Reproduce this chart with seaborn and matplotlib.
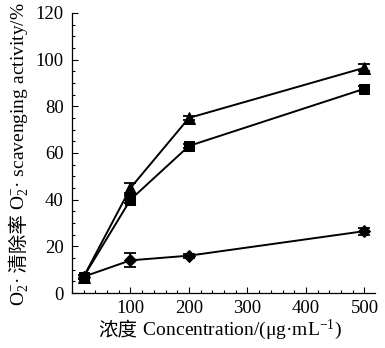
import matplotlib
matplotlib.use("Agg")
import matplotlib.pyplot as plt
from matplotlib.ticker import MultipleLocator
import seaborn as sns
import pandas as pd

concentration = [20, 100, 200, 500]
triangle_vals = [7, 45, 75, 96.5]
triangle_err = [0.8, 2.0, 0.8, 1.5]
square_vals = [7, 40, 63, 87.5]
square_err = [0.8, 1.5, 0.8, 1.0]
diamond_vals = [7, 14, 16, 26.5]
diamond_err = [0.8, 3.0, 0.8, 1.5]
series_names = ["tri", "sq", "dia"]

xlabel_parts = ["浓度", " Concentration/(μg·mL$^{-1}$)"]
ylabel_parts = ["O$_2^{-}$·", " 清除率 ", "O$_2^{-}$· scavenging activity/%"]

sns.set_theme(style="ticks")
plt.rcParams['font.family'] = ['Liberation Serif', 'Noto Sans CJK SC']
plt.rcParams['mathtext.fontset'] = 'custom'
plt.rcParams['mathtext.rm'] = 'Liberation Serif'
plt.rcParams['mathtext.it'] = 'Liberation Serif:italic'

rows = []
for name, vals in zip(series_names, [triangle_vals, square_vals, diamond_vals]):
    for c, v in zip(concentration, vals):
        rows.append({"conc": c, "val": v, "series": name})
df = pd.DataFrame(rows)

W, H = 385, 348
fig = plt.figure(figsize=(W / 100, H / 100), dpi=100)
ax = fig.add_axes([0.187, 0.158, 0.787, 0.805])

markers = {"tri": "^", "sq": "s", "dia": "D"}
sizes = {"tri": 8.5, "sq": 7.2, "dia": 6}
for name, vals, errs in zip(series_names, [triangle_vals, square_vals, diamond_vals],
                            [triangle_err, square_err, diamond_err]):
    sub = df[df.series == name]
    sns.lineplot(data=sub, x="conc", y="val", ax=ax, color="black", lw=1.4,
                 marker=markers[name], markersize=sizes[name], markeredgecolor="black",
                 legend=False)
    ax.errorbar(concentration, vals, yerr=errs, fmt="none", ecolor="black",
                elinewidth=1.3, capsize=4, capthick=1.3)

ax.set_xlim(0, 518)
ax.set_ylim(0, 120)
ax.xaxis.set_major_locator(MultipleLocator(100))
ax.xaxis.set_minor_locator(MultipleLocator(20))
ax.yaxis.set_major_locator(MultipleLocator(20))
ax.yaxis.set_minor_locator(MultipleLocator(5))
ax.set_xticks([100, 200, 300, 400, 500])
ax.tick_params(which="both", direction="in", width=0.8, colors="black", labelsize=13.5)
ax.tick_params(which="major", length=4)
ax.tick_params(which="minor", length=2.5)
ax.tick_params(axis="y", pad=6)
ax.tick_params(axis="x", pad=5)
for s in ["top", "right"]:
    ax.spines[s].set_visible(False)
for s in ["left", "bottom"]:
    ax.spines[s].set_linewidth(0.9)
    ax.spines[s].set_color("black")
ax.set_xlabel("")
ax.set_ylabel("")

fs = 14
fig.canvas.draw()
renderer = fig.canvas.get_renderer()


def make_pieces(parts, rotation):
    objs = []
    for p in parts:
        fam = ['Noto Sans CJK SC'] if any('\u4e00' <= ch <= '\u9fff' for ch in p) else ['Liberation Serif']
        t = fig.text(0, 0, p, fontsize=fs, rotation=rotation, family=fam,
                     ha="left", va="baseline", color="black",
                     rotation_mode="anchor")
        objs.append(t)
    return objs


ax_bbox = ax.get_window_extent(renderer)

xl = make_pieces(xlabel_parts, 0)
widths = [t.get_window_extent(renderer).width for t in xl]
total = sum(widths)
xc = 220
x = xc - total / 2
ybase = 13
for t, w in zip(xl, widths):
    t.set_position((x / W, ybase / H))
    x += w

yl = make_pieces(ylabel_parts, 90)
heights = [t.get_window_extent(renderer).height for t in yl]
total = sum(heights)
yc = H - 154
y = yc - total / 2
xbase = 25
for t, h in zip(yl, heights):
    t.set_position((xbase / W, y / H))
    y += h

fig.savefig("out.png", dpi=100)
